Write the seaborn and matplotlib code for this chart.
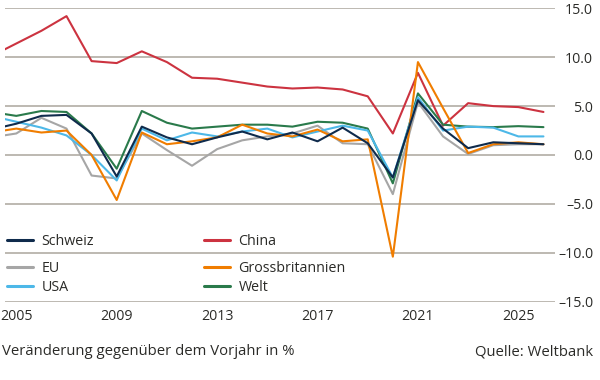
import numpy as np
import pandas as pd
import matplotlib
matplotlib.use("Agg")
import matplotlib.pyplot as plt
from matplotlib.lines import Line2D
from matplotlib.legend import Legend
from matplotlib.ticker import FuncFormatter
import seaborn as sns

# data (BIP-Wachstum)
years = list(range(2004, 2027))
schweiz = [2.6, 3.2, 4.0, 4.1, 2.2, -2.2, 2.9, 1.8, 1.1, 1.8, 2.4, 1.6, 2.3, 1.4, 2.8, 1.2, -2.3, 5.6, 2.7, 0.7, 1.3, 1.2, 1.1]
china = [10.1, 11.4, 12.7, 14.2, 9.6, 9.4, 10.6, 9.5, 7.9, 7.8, 7.4, 7.0, 6.8, 6.9, 6.7, 6.0, 2.2, 8.4, 3.0, 5.3, 5.0, 4.9, 4.4]
eu = [1.8, 2.2, 3.8, 2.7, -2.1, -2.4, 2.2, 0.5, -1.1, 0.6, 1.5, 1.9, 2.2, 3.0, 1.2, 1.1, -4.0, 5.4, 1.9, 0.1, 1.0, 1.1, 1.1]
gb = [2.3, 2.7, 2.3, 2.5, 0.0, -4.6, 2.3, 1.1, 1.4, 1.8, 3.1, 2.2, 1.9, 2.6, 1.4, 1.6, -10.4, 9.5, 4.8, 0.2, 1.1, 1.3, 1.1]
usa = [4.0, 3.4, 2.8, 2.0, 0.0, -2.6, 2.7, 1.5, 2.3, 1.9, 2.4, 2.7, 1.8, 2.4, 3.0, 2.5, -2.3, 5.9, 2.5, 2.9, 2.8, 1.9, 1.9]
welt = [4.4, 4.0, 4.5, 4.4, 2.2, -1.4, 4.5, 3.3, 2.7, 2.9, 3.1, 3.1, 2.9, 3.4, 3.3, 2.7, -2.9, 6.3, 3.1, 2.9, 2.85, 2.95, 2.85]

series = {"Schweiz": schweiz, "China": china, "EU": eu,
          "Grossbritannien": gb, "USA": usa, "Welt": welt}
colors = {"Schweiz": "#0f2b4c", "China": "#cc3340", "EU": "#a6a6a6",
          "Grossbritannien": "#f07d00", "USA": "#4db8e8", "Welt": "#2a7a4b"}
xticks = [2005, 2009, 2013, 2017, 2021, 2025]
yticks = [-15, -10, -5, 0, 5, 10, 15]

df = pd.DataFrame([(y, name, v) for name, vals in series.items() for y, v in zip(years, vals)],
                  columns=["Jahr", "Region", "Wert"])

sns.set_style("white")
plt.rcParams["font.family"] = ["Open Sans", "DejaVu Sans"]
text_col = "#2b2b28"
fs = 10.2

fig = plt.figure(figsize=(6, 3.8), dpi=100)
ax = fig.add_axes([5 / 600, 1 - 301.7 / 380, 550 / 600, (301.7 - 8.3) / 380])

# draw order: EU and China first, Schweiz on top
order = ["EU", "China", "Welt", "USA", "Grossbritannien", "Schweiz"]
sns.lineplot(data=df, x="Jahr", y="Wert", hue="Region", hue_order=order,
             palette=colors, linewidth=1.5, legend=False, ax=ax)

ax.set_xlim(2004.55, 2026.46)
ax.set_ylim(-15, 15)
ax.set_xticks(xticks)
ax.set_yticks(yticks)
ax.yaxis.set_major_formatter(FuncFormatter(lambda v, p: f"{v:.1f}".replace("-", "\u2013")))
ax.yaxis.tick_right()
ax.tick_params(axis="y", length=0, pad=27.4, labelsize=fs, labelcolor=text_col)
ax.tick_params(axis="x", length=0, pad=5, labelsize=fs, labelcolor=text_col)
plt.setp(ax.get_yticklabels(), ha="right")
ax.set_xlabel("")
ax.set_ylabel("")
ax.grid(axis="y", color="#b7b3ab", linewidth=1.3)
ax.grid(axis="x", visible=False)
ax.set_axisbelow(True)
for s in ax.spines.values():
    s.set_visible(False)

# legend, one entry each so rows can sit like in the original
leg_pos = {"Schweiz": (7, 241.5), "China": (204, 241.5),
           "EU": (7, 268.3), "Grossbritannien": (204, 268.3),
           "USA": (7, 287.5), "Welt": (204, 287.5)}
for name, (px, py) in leg_pos.items():
    h = Line2D([], [], color=colors[name], linewidth=2.2)
    leg = Legend(ax, [h], [name], loc="center left",
                 bbox_to_anchor=(px / 600, 1 - py / 380), bbox_transform=fig.transFigure,
                 frameon=False, borderpad=0, borderaxespad=0, fontsize=10.3,
                 handlelength=1.85, handletextpad=0.55, labelcolor=text_col)
    ax.add_artist(leg)

fig.text(2 / 600, 1 - 355 / 380, "Veränderung gegenüber dem Vorjahr in %",
         ha="left", va="baseline", fontsize=10.7, color=text_col)
fig.text(593 / 600, 1 - 355 / 380, "Quelle: Weltbank",
         ha="right", va="baseline", fontsize=10.7, color=text_col)

fig.savefig("out.png", dpi=100)
